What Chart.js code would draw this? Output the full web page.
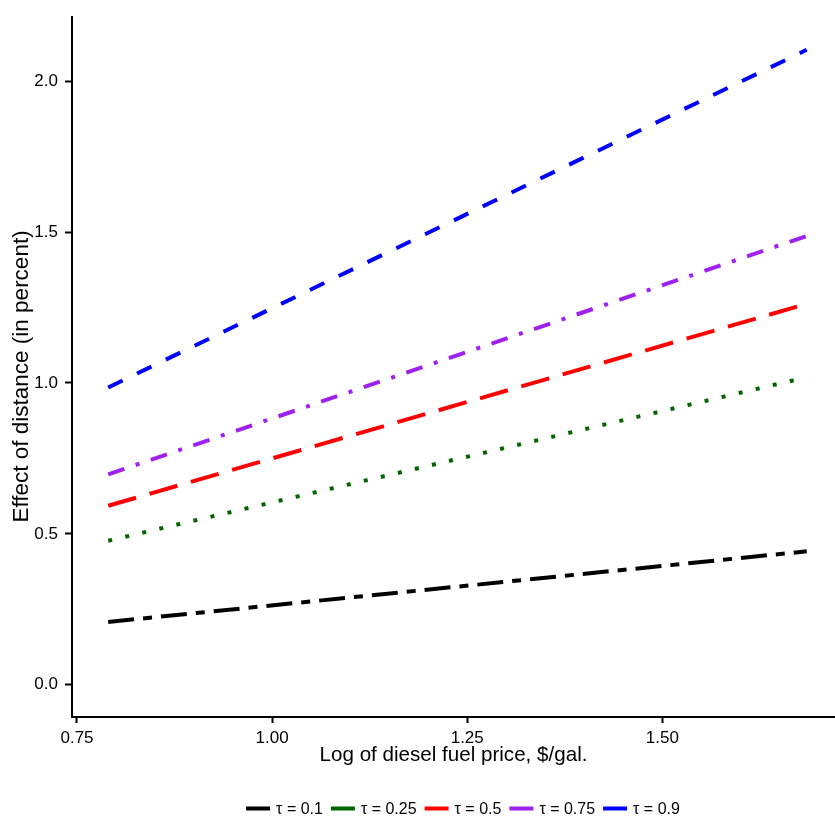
<!DOCTYPE html>
<html>
<head>
<meta charset="utf-8">
<script src="https://cdn.jsdelivr.net/npm/chart.js@4.4.0/dist/chart.umd.min.js"></script>
<style>
  html, body { margin: 0; padding: 0; background: #fff; }
  canvas { display: block; }
</style>
</head>
<body>
<canvas id="chart" width="835" height="821"></canvas>
<script>
const logPrice = [0.79, 1.685];
const tauLabels = ['τ = 0.1', 'τ = 0.25', 'τ = 0.5', 'τ = 0.75', 'τ = 0.9'];
const effTau10 = [0.208, 0.442];
const effTau25 = [0.477, 1.019];
const effTau50 = [0.593, 1.262];
const effTau75 = [0.697, 1.487];
const effTau90 = [0.985, 2.104];
const xTicks = [0.75, 1.00, 1.25, 1.50];
const yTicks = [0.0, 0.5, 1.0, 1.5, 2.0];

const FONT = '"Liberation Sans", Arial, Helvetica, sans-serif';

const seriesValues = [effTau10, effTau25, effTau50, effTau75, effTau90];
const lineColors = ['#000000', '#006400', '#ff0000', '#a020f0', '#0000ff'];
const lineDashes = [[26, 9, 9, 9], [4, 13.5], [29, 14], [17, 12, 4, 12], [16, 16]];

const datasets = seriesValues.map((vals, i) => ({
  label: tauLabels[i],
  data: vals.map((v, j) => ({ x: logPrice[j], y: v })),
  borderColor: lineColors[i],
  backgroundColor: lineColors[i],
  borderWidth: 4,
  borderDash: lineDashes[i],
  borderCapStyle: 'butt',
  pointRadius: 0,
  fill: false
}));

// legend drawn by hand so it can sit where the original has it
const bottomLegend = {
  id: 'bottomLegend',
  afterDraw(chart) {
    const ctx = chart.ctx;
    ctx.save();
    ctx.font = '16px ' + FONT;
    ctx.textBaseline = 'middle';
    const boxW = 24, gapBox = 6, gapItem = 8;
    const widths = tauLabels.map(t => boxW + gapBox + ctx.measureText(t).width);
    const total = widths.reduce((a, b) => a + b, 0) + gapItem * (widths.length - 1);
    let x = 463 - total / 2;
    const y = 808.5;
    tauLabels.forEach((t, i) => {
      ctx.fillStyle = lineColors[i];
      ctx.fillRect(x, y - 2, boxW, 4);
      ctx.fillStyle = '#000';
      ctx.fillText(t, x + boxW + gapBox, y + 1);
      x += widths[i] + gapItem;
    });
    ctx.restore();
  }
};

new Chart(document.getElementById('chart'), {
  type: 'line',
  data: { datasets: datasets },
  options: {
    responsive: false,
    animation: false,
    layout: { padding: { top: 12, right: 0, bottom: 44, left: 0 } },
    plugins: {
      legend: { display: false },
      tooltip: { enabled: false }
    },
    scales: {
      x: {
        type: 'linear',
        min: 0.7436,
        max: 1.7212,
        afterBuildTicks: scale => { scale.ticks = xTicks.map(v => ({ value: v })); },
        afterFit: scale => { scale.height = 60; },
        ticks: {
          callback: v => v.toFixed(2),
          color: '#000',
          font: { family: FONT, size: 17 },
          padding: 5,
          maxRotation: 0
        },
        grid: { display: true, drawOnChartArea: false, tickLength: 6, tickColor: '#000', tickWidth: 2 },
        border: { display: true, color: '#000', width: 2 },
        title: {
          display: true,
          text: 'Log of diesel fuel price, $/gal.',
          color: '#000',
          font: { family: FONT, size: 20.6 },
          padding: { top: 0, bottom: 9 }
        }
      },
      y: {
        type: 'linear',
        min: -0.107,
        max: 2.212,
        afterBuildTicks: scale => { scale.ticks = yTicks.map(v => ({ value: v })); },
        afterFit: scale => { scale.width = 72; },
        ticks: {
          callback: v => v.toFixed(1),
          color: '#000',
          font: { family: FONT, size: 17 },
          padding: 7
        },
        grid: { display: true, drawOnChartArea: false, tickLength: 7, tickColor: '#000', tickWidth: 2 },
        border: { display: true, color: '#000', width: 2 },
        title: {
          display: true,
          text: 'Effect of distance (in percent)   ',
          color: '#000',
          font: { family: FONT, size: 22.5 },
          padding: { top: 8, bottom: 0 }
        }
      }
    }
  },
  plugins: [bottomLegend]
});
</script>
</body>
</html>
